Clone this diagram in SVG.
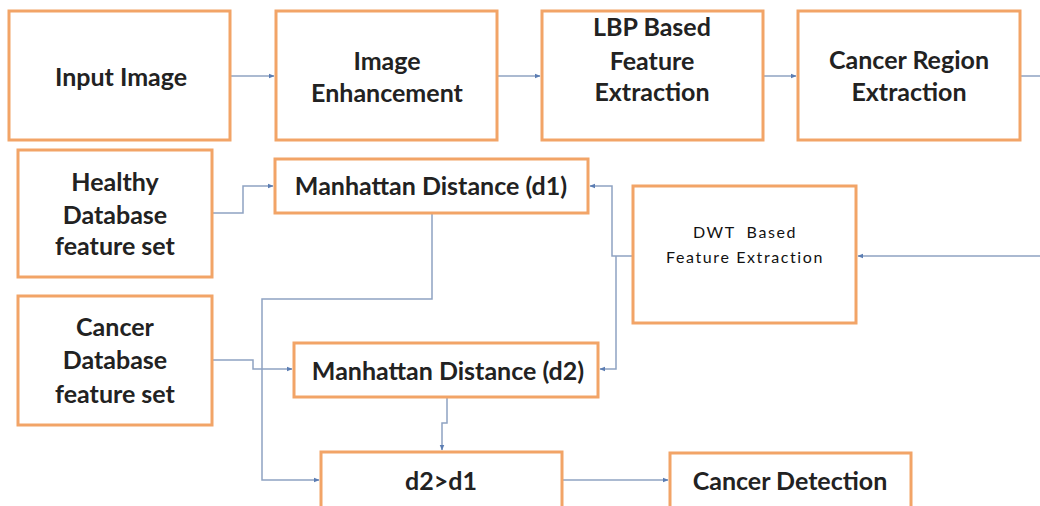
<svg xmlns="http://www.w3.org/2000/svg" width="1040" height="506" viewBox="0 0 1040 506">
<defs>
<style>
.box{fill:#fff;stroke:#F2A467;stroke-width:3}
.t{font-family:Lato,"Liberation Sans",sans-serif;font-size:25px;font-weight:bold;fill:#222;text-anchor:middle}
.s{font-family:Lato,"Liberation Sans",sans-serif;font-size:16px;fill:#111;text-anchor:middle;letter-spacing:1.6px;white-space:pre}
.c{fill:none;stroke:#8FA3C2;stroke-width:1.5}
</style>
<marker id="ah" viewBox="0 0 10 10" refX="9" refY="5" markerWidth="6" markerHeight="6" markerUnits="userSpaceOnUse" orient="auto">
<path d="M0,1 L10,5 L0,9 z" fill="#5B7DB3"/>
</marker>
</defs>
<rect width="1040" height="506" fill="#fff"/>
<g id="connectors">
<path class="c" d="M230 76 H274" marker-end="url(#ah)"/>
<path class="c" d="M497 76 H540" marker-end="url(#ah)"/>
<path class="c" d="M763 76 H796" marker-end="url(#ah)"/>
<path class="c" d="M1020 76 H1042 V256 H858" marker-end="url(#ah)"/>
<path class="c" d="M633 256 H612 V186 H590" marker-end="url(#ah)"/>
<path class="c" d="M616 256 V369 H600" marker-end="url(#ah)"/>
<path class="c" d="M212 213 H243 V186 H273" marker-end="url(#ah)"/>
<path class="c" d="M212 360 H253 V369 H292" marker-end="url(#ah)"/>
<path class="c" d="M432 213 V299 H262 V480 H319" marker-end="url(#ah)"/>
<path class="c" d="M447 397 V423 H442 V450" marker-end="url(#ah)"/>
<path class="c" d="M562 480 H668" marker-end="url(#ah)"/>
</g>
<g id="input-image"><rect class="box" x="9" y="11" width="221" height="129"/><text class="t" x="121" y="86">Input Image</text></g>
<g id="image-enhancement"><rect class="box" x="276" y="11" width="221" height="129"/><text class="t" x="387" y="70">Image</text><text class="t" x="387" y="102">Enhancement</text></g>
<g id="lbp"><rect class="box" x="542" y="11" width="221" height="129"/><text class="t" x="652" y="36">LBP Based</text><text class="t" x="652" y="70">Feature</text><text class="t" x="652" y="101">Extraction</text></g>
<g id="cancer-region"><rect class="box" x="798" y="11" width="222" height="129"/><text class="t" x="909" y="69">Cancer Region</text><text class="t" x="909" y="101">Extraction</text></g>
<g id="healthy-db"><rect class="box" x="18" y="150" width="194" height="127"/><text class="t" x="115" y="191">Healthy</text><text class="t" x="115" y="224">Database</text><text class="t" x="115" y="255">feature set</text></g>
<g id="manhattan-d1"><rect class="box" x="275" y="159" width="313" height="54"/><text class="t" x="431" y="195">Manhattan Distance (d1)</text></g>
<g id="dwt"><rect class="box" x="633" y="186" width="223" height="137"/><text class="s" x="745" y="238" xml:space="preserve">DWT  Based</text><text class="s" x="745" y="263">Feature Extraction</text></g>
<g id="cancer-db"><rect class="box" x="18" y="296" width="194" height="129"/><text class="t" x="115" y="336">Cancer</text><text class="t" x="115" y="369">Database</text><text class="t" x="115" y="403">feature set</text></g>
<g id="manhattan-d2"><rect class="box" x="294" y="343" width="304" height="54"/><text class="t" x="448" y="380">Manhattan Distance (d2)</text></g>
<g id="compare"><rect class="box" x="321" y="452" width="241" height="62"/><text class="t" x="441" y="490">d2&gt;d1</text></g>
<g id="cancer-detection"><rect class="box" x="670" y="453" width="241" height="62"/><text class="t" x="790" y="490">Cancer Detection</text></g>
</svg>
